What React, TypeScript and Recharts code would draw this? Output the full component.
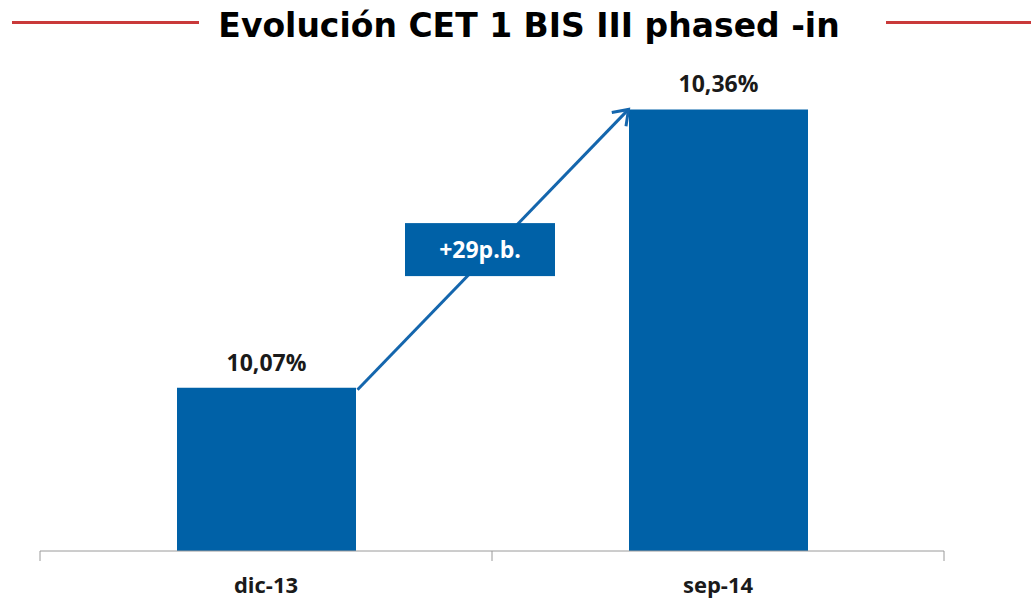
import { Bar, BarChart, LabelList, ReferenceLine, XAxis, YAxis } from "recharts"

const TITLE = "Evolución CET 1 BIS III phased -in"
const PERIODS = ["dic-13", "sep-14"]
const CET1 = [10.07, 10.36]
const Y_DOMAIN: [number, number] = [9.9, 10.4]
const X_TICKS = [0, 0.5, 1, 1.5, 2]

const BAR_COLOR = "#0061A7"
const ARROW_COLOR = "#1466AD"
const TITLE_RED = "#C9393A"
const TEXT_COLOR = "#1a1a1a"
const FONT = "'Open Sans', 'DejaVu Sans', sans-serif"
const BAR_SIZE = 179

const data = PERIODS.map((period, i) => ({ period, pos: i + 0.5, cet1: CET1[i] }))
const deltaBp = Math.round((CET1[1] - CET1[0]) * 100)

const fmtPct = (v: number) => `${v.toFixed(2).replace(".", ",")}%`

function EdgeTick(props: any) {
  const { x, y, payload } = props
  const v = payload.value as number
  if (Number.isInteger(v)) {
    return <line x1={x} x2={x} y1={y} y2={y + 10} stroke="#9a9a9a" strokeWidth={1} />
  }
  return (
    <text
      x={x}
      y={y + 42}
      textAnchor="middle"
      fontFamily={FONT}
      fontWeight={700}
      fontSize={22}
      fill={TEXT_COLOR}
    >
      {PERIODS[Math.floor(v)]}
    </text>
  )
}

// arrow from top-right of first bar to top-left of second, with the delta box
function DeltaArrow(props: any) {
  const x1 = props.x1 + BAR_SIZE / 2 + 2
  const y1 = props.y1 + 2
  const x2 = props.x2 - BAR_SIZE / 2
  const y2 = props.y2
  const ang = Math.atan2(y2 - y1, x2 - x1)
  const head = 17
  const spread = 0.62
  const w1x = x2 - head * Math.cos(ang - spread)
  const w1y = y2 - head * Math.sin(ang - spread)
  const w2x = x2 - head * Math.cos(ang + spread)
  const w2y = y2 - head * Math.sin(ang + spread)
  const cx = (x1 + x2) / 2 - 13
  const cy = (y1 + y2) / 2
  return (
    <g>
      <line x1={x1} y1={y1} x2={x2} y2={y2} stroke={ARROW_COLOR} strokeWidth={3} />
      <polyline
        points={`${w1x},${w1y} ${x2},${y2} ${w2x},${w2y}`}
        fill="none"
        stroke={ARROW_COLOR}
        strokeWidth={3}
        strokeLinejoin="miter"
      />
      <rect x={cx - 75} y={cy - 26.5} width={150} height={53} fill={BAR_COLOR} />
      <text
        x={cx}
        y={cy + 8}
        textAnchor="middle"
        fontFamily={FONT}
        fontWeight={700}
        fontSize={23}
        fill="#ffffff"
      >
        {`+${deltaBp}p.b.`}
      </text>
    </g>
  )
}

export default function App() {
  return (
    <div style={{ position: "absolute", left: 0, top: 0, width: 1031, height: 601, background: "#fff" }}>
      <div style={{ position: "absolute", left: 12, top: 21, width: 187, height: 3, background: TITLE_RED }} />
      <div style={{ position: "absolute", left: 886, top: 21, width: 145, height: 3, background: TITLE_RED }} />
      <div
        style={{
          position: "absolute",
          left: 0,
          width: 1058,
          top: 6,
          textAlign: "center",
          fontFamily: "'DejaVu Sans', Verdana, sans-serif",
          fontWeight: 700,
          fontSize: 33,
          lineHeight: "normal",
          color: "#000",
        }}
      >
        {TITLE}
      </div>
      <BarChart
        width={1031}
        height={601}
        data={data}
        margin={{ top: 71, right: 87, left: 40, bottom: 0 }}
        style={{ position: "absolute", left: 0, top: 0 }}
      >
        <XAxis
          type="number"
          dataKey="pos"
          domain={[0, 2]}
          ticks={X_TICKS}
          interval={0}
          tickLine={false}
          tickSize={0}
          tickMargin={0}
          axisLine={{ stroke: "#9a9a9a" }}
          tick={<EdgeTick />}
          height={50}
        />
        <YAxis hide domain={Y_DOMAIN} />
        <Bar dataKey="cet1" fill={BAR_COLOR} barSize={BAR_SIZE} isAnimationActive={false}>
          <LabelList
            dataKey="cet1"
            position="top"
            offset={17}
            formatter={(v: any) => fmtPct(Number(v))}
            fontFamily={FONT}
            fontWeight={700}
            fontSize={23}
            fill={TEXT_COLOR}
          />
        </Bar>
        <ReferenceLine
          segment={[
            { x: data[0].pos, y: CET1[0] },
            { x: data[1].pos, y: CET1[1] },
          ]}
          shape={<DeltaArrow />}
        />
      </BarChart>
    </div>
  )
}
